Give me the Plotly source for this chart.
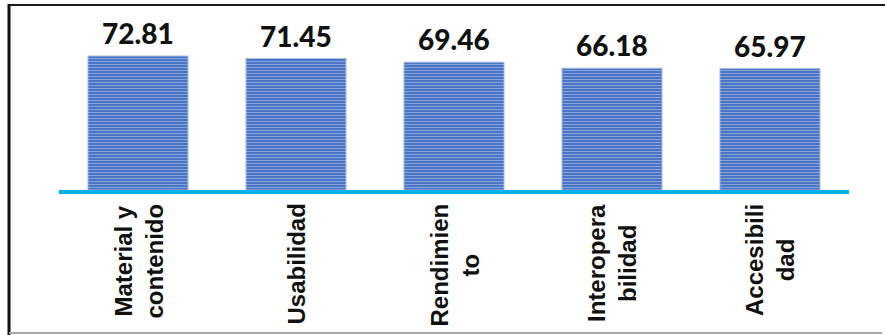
import plotly.graph_objects as go

categories = ["Material y contenido", "Usabilidad", "Rendimiento", "Interoperabilidad", "Accesibilidad"]
tick_labels = ["Material y<br>contenido", "Usabilidad", "Rendimien<br>to", "Interopera<br>bilidad", "Accesibili<br>dad"]
values = [72.81, 71.45, 69.46, 66.18, 65.97]
value_labels = ["72.81", "71.45", "69.46", "66.18", "65.97"]

W, H = 885, 335
ML, MR, MT, MB = 59, 36, 6, 145
PW = W - ML - MR
PH = H - MT - MB

fig = go.Figure()
fig.add_trace(go.Bar(
    x=categories,
    y=values,
    width=0.633,
    marker=dict(
        color="#4a74c6",
        line=dict(color="#a4bae2", width=1),
        pattern=dict(shape="-", fgcolor="#c3d1ec", bgcolor="#4a74c6", size=3, solidity=0.35),
    ),
    hoverinfo="skip",
    showlegend=False,
))

annotations = []
for c, v, t in zip(categories, values, value_labels):
    annotations.append(dict(
        x=c, y=v, xref="x", yref="y", text=t, showarrow=False,
        yanchor="bottom", yshift=4,
        font=dict(family="Lato", size=28, color="#111111", weight=900),
    ))
for c, t in zip(categories, tick_labels):
    annotations.append(dict(
        x=c, y=0, xref="x", yref="paper", text=t, showarrow=False,
        yanchor="top", xanchor="center", yshift=-12, textangle=-90, align="center",
        font=dict(family="Liberation Sans, Arial", size=24, color="#111111", weight="bold"),
    ))

def px_to_paper_x(px):
    return (px - ML) / PW

def px_to_paper_y(py):
    return (H - MB - py) / PH

shapes = [
    dict(type="line", xref="paper", yref="paper",
         x0=px_to_paper_x(8), x1=px_to_paper_x(885), y0=px_to_paper_y(5), y1=px_to_paper_y(5),
         line=dict(color="#1a1a1a", width=2)),
    dict(type="line", xref="paper", yref="paper",
         x0=px_to_paper_x(9), x1=px_to_paper_x(9), y0=px_to_paper_y(4), y1=px_to_paper_y(335),
         line=dict(color="#111111", width=3)),
    dict(type="line", xref="paper", yref="paper",
         x0=px_to_paper_x(9), x1=px_to_paper_x(882), y0=px_to_paper_y(333), y1=px_to_paper_y(333),
         line=dict(color="#a6a6a6", width=2)),
]

fig.update_layout(
    width=W, height=H,
    margin=dict(l=ML, r=MR, t=MT, b=MB),
    paper_bgcolor="white", plot_bgcolor="white",
    bargap=0.367,
    xaxis=dict(showticklabels=False, showline=True, linecolor="#00B0F0", linewidth=4,
               ticks="", showgrid=False, zeroline=False, fixedrange=True),
    yaxis=dict(range=[0, 100], visible=False, showgrid=False, zeroline=False, fixedrange=True),
    annotations=annotations,
    shapes=shapes,
)

fig.write_html("out.html", config={"displayModeBar": False})
